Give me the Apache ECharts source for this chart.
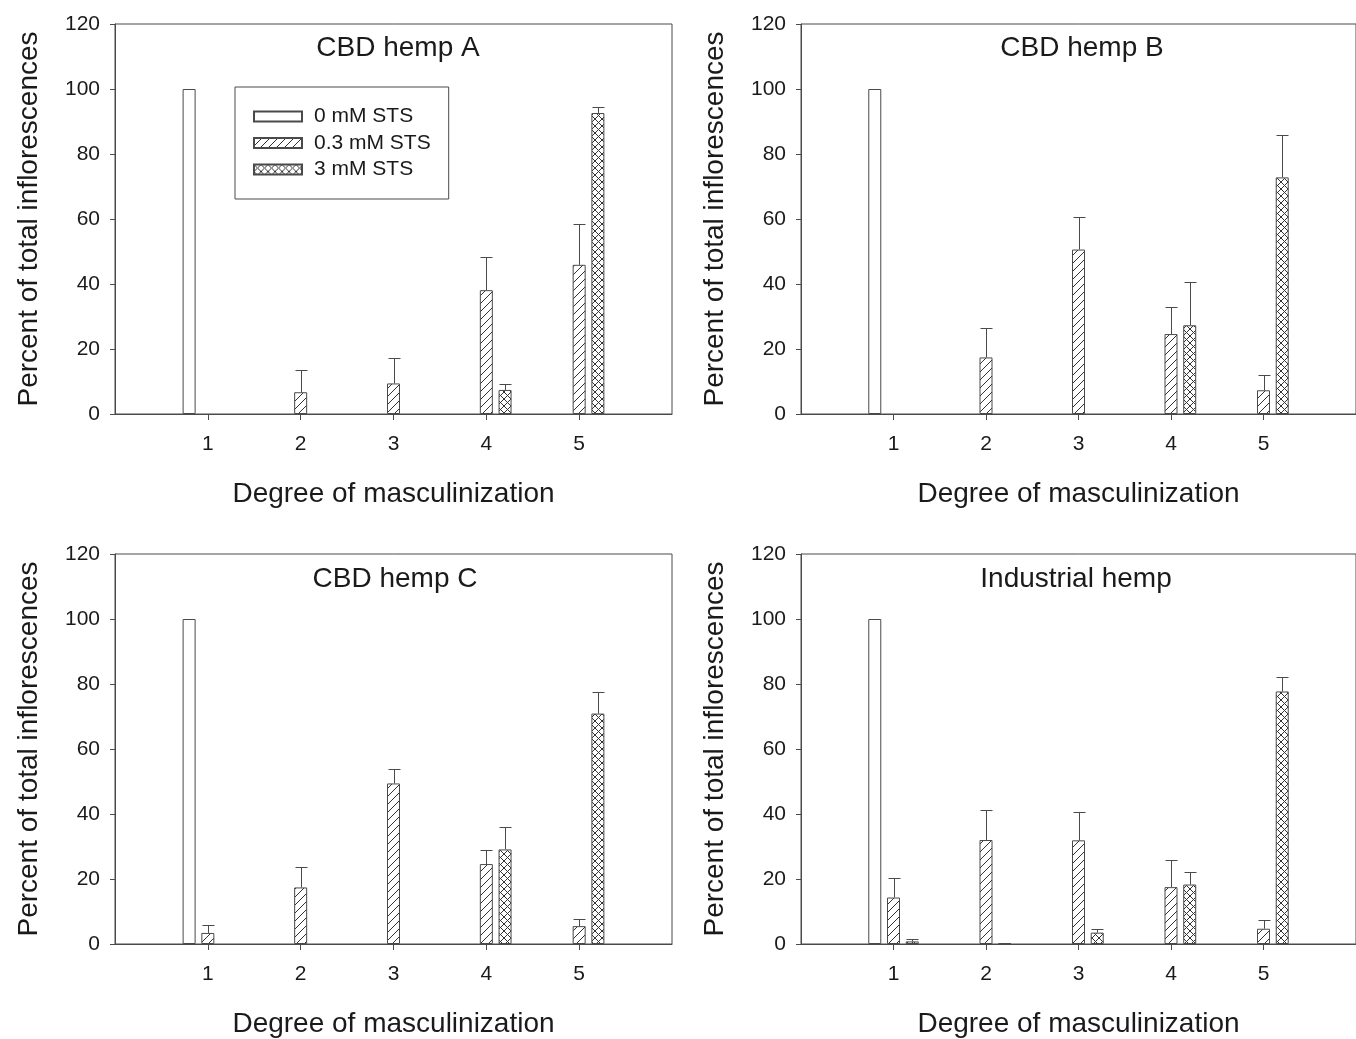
<!DOCTYPE html>
<html>
<head>
<meta charset="utf-8">
<script src="https://cdn.jsdelivr.net/npm/echarts@6/dist/echarts.min.js"></script>
<style>
html,body{margin:0;padding:0;background:#fff;}
#chart{width:1356px;height:1039px;}
</style>
</head>
<body>
<div id="chart"></div>
<script>
// ---- data ----
const degrees = ['1', '2', '3', '4', '5'];
const seriesNames = ['0 mM STS', '0.3 mM STS', '3 mM STS'];
const panelTitles = ['CBD hemp A', 'CBD hemp B', 'CBD hemp C', 'Industrial hemp'];
const yTicks = [0, 20, 40, 60, 80, 100, 120];

// CBD hemp A
const A_0mM = [100, null, null, null, null];
const A_03mM = [null, 6.7, 9.4, 38.1, 45.9];
const A_3mM = [null, null, null, 7.4, 92.6];
const A_03mM_err = [null, 6.7, 7.9, 10.1, 12.6];
const A_3mM_err = [null, null, null, 1.9, 2.0];
// CBD hemp B
const B_0mM = [100, null, null, null, null];
const B_03mM = [null, 17.4, 50.6, 24.6, 7.3];
const B_3mM = [null, null, null, 27.3, 72.8];
const B_03mM_err = [null, 9.2, 10.1, 8.3, 4.7];
const B_3mM_err = [null, null, null, 13.3, 13.1];
// CBD hemp C
const C_0mM = [100, null, null, null, null];
const C_03mM = [3.4, 17.4, 49.4, 24.6, 5.5];
const C_3mM = [null, null, null, 29.1, 70.9];
const C_03mM_err = [2.3, 6.4, 4.5, 4.3, 2.2];
const C_3mM_err = [null, null, null, 6.8, 6.6];
// Industrial hemp
const D_0mM = [100, null, null, null, null];
const D_03mM = [14.3, 32.0, 31.9, 17.5, 4.7];
const D_3mM = [0.8, 0.2, 3.5, 18.3, 77.7];
const D_03mM_err = [5.9, 9.3, 8.7, 8.5, 2.6];
const D_3mM_err = [0.6, 0, 1.0, 3.8, 4.4];

const panelValues = [
  [A_0mM, A_03mM, A_3mM],
  [B_0mM, B_03mM, B_3mM],
  [C_0mM, C_03mM, C_3mM],
  [D_0mM, D_03mM, D_3mM]
];
const panelErrors = [
  [null, A_03mM_err, A_3mM_err],
  [null, B_03mM_err, B_3mM_err],
  [null, C_03mM_err, C_3mM_err],
  [null, D_03mM_err, D_3mM_err]
];

// ---- layout / style ----
const FONT = "'Liberation Sans', Arial, Helvetica, sans-serif";
const TXT = '#1a1a1a';
const LINE = '#4a4a4a';
const grids = [
  {left: 115, top: 24, width: 557, height: 390},
  {left: 801, top: 24, width: 557, height: 390},
  {left: 115, top: 554, width: 557, height: 394},
  {left: 801, top: 554, width: 557, height: 394}
];
const titlePos = [[398, 34], [1082, 34], [395, 565], [1076, 565]];
const BAR_W = 13;
const BAR_GAP = 0.44;
const BAR_STEP = BAR_W * (1 + BAR_GAP);

function makePattern(size, cross) {
  const c = document.createElement('canvas');
  c.width = size; c.height = size;
  const g = c.getContext('2d');
  g.fillStyle = '#ffffff';
  g.fillRect(0, 0, size, size);
  g.strokeStyle = '#333333';
  g.lineWidth = 1;
  g.beginPath();
  for (let k = -size; k <= size; k += size) {
    g.moveTo(k, size); g.lineTo(k + size, 0);
    if (cross) { g.moveTo(k, 0); g.lineTo(k + size, size); }
  }
  g.stroke();
  return c;
}
const fills = [
  '#ffffff',
  {image: makePattern(8, false), repeat: 'repeat'},
  {image: makePattern(7, true), repeat: 'repeat'}
];

const axisCats = [''].concat(degrees, ['']);
const pad = arr => [null].concat(arr, [null]);
const showCat = (i, v) => v !== '';

const option = {
  animation: false,
  backgroundColor: '#ffffff',
  title: panelTitles.map((t, i) => ({
    text: t,
    left: titlePos[i][0],
    top: titlePos[i][1],
    textAlign: 'center',
    padding: 0,
    textStyle: {fontFamily: FONT, fontSize: 28, fontWeight: 'normal', color: TXT, lineHeight: 28}
  })),
  legend: {
    show: true,
    data: seriesNames,
    orient: 'vertical',
    left: 235,
    top: 87,
    padding: [19, 18, 19, 18],
    itemWidth: 48,
    itemHeight: 10,
    itemGap: 5.5,
    icon: 'rect',
    borderColor: LINE,
    borderWidth: 1,
    backgroundColor: '#ffffff',
    selectedMode: false,
    textStyle: {fontFamily: FONT, fontSize: 21, color: TXT, lineHeight: 21, padding: [0, 0, 0, 7]}
  },
  grid: grids.map(g => Object.assign({show: true, borderColor: LINE, borderWidth: 1, backgroundColor: 'transparent', containLabel: false}, g)),
  xAxis: grids.map((g, i) => ({
    type: 'category',
    gridIndex: i,
    data: axisCats,
    boundaryGap: false,
    name: 'Degree of masculinization',
    nameLocation: 'middle',
    nameGap: 66,
    nameTextStyle: {fontFamily: FONT, fontSize: 28, color: TXT},
    axisLine: {show: true, lineStyle: {color: LINE, width: 1}},
    axisTick: {show: true, interval: showCat, length: 6, inside: false, lineStyle: {color: LINE}},
    axisLabel: {show: true, interval: showCat, margin: 20, fontFamily: FONT, fontSize: 21, color: TXT},
    splitLine: {show: false}
  })),
  yAxis: grids.map((g, i) => ({
    type: 'value',
    gridIndex: i,
    min: yTicks[0],
    max: yTicks[yTicks.length - 1],
    interval: yTicks[1] - yTicks[0],
    name: 'Percent of total inflorescences',
    nameLocation: 'middle',
    nameGap: 72,
    nameTextStyle: {fontFamily: FONT, fontSize: 28, color: TXT},
    axisLine: {show: true, lineStyle: {color: LINE, width: 1}},
    axisTick: {show: true, length: 5, inside: false, lineStyle: {color: LINE}},
    axisLabel: {show: true, margin: 15, fontFamily: FONT, fontSize: 21, color: TXT},
    splitLine: {show: false}
  })),
  series: []
};

panelValues.forEach((vals, p) => {
  vals.forEach((arr, s) => {
    option.series.push({
      name: seriesNames[s],
      type: 'bar',
      xAxisIndex: p,
      yAxisIndex: p,
      barWidth: BAR_W,
      barGap: (BAR_GAP * 100) + '%',
      data: pad(arr),
      silent: true,
      itemStyle: {color: fills[s], borderColor: LINE, borderWidth: 1},
      emphasis: {disabled: true}
    });
  });
  panelErrors[p].forEach((errs, s) => {
    if (!errs) return;
    const data = [];
    errs.forEach((e, k) => {
      const v = vals[s][k];
      if (v != null && e != null && e > 0) data.push([k + 1, v, e, (s - 1) * BAR_STEP]);
    });
    option.series.push({
      type: 'custom',
      xAxisIndex: p,
      yAxisIndex: p,
      silent: true,
      data: data,
      encode: {x: 0, y: 1},
      renderItem: (params, api) => {
        const x = api.value(0), v = api.value(1), e = api.value(2), off = api.value(3);
        const p0 = api.coord([x, v]);
        const p1 = api.coord([x, v + e]);
        const cx = Math.round(p0[0] + off) + 0.5;
        const ty = Math.round(p1[1]) + 0.5;
        return {
          type: 'group',
          children: [
            {type: 'line', shape: {x1: cx, y1: p0[1], x2: cx, y2: ty}, style: {stroke: LINE, lineWidth: 1}},
            {type: 'line', shape: {x1: cx - 6, y1: ty, x2: cx + 6, y2: ty}, style: {stroke: LINE, lineWidth: 1}}
          ]
        };
      }
    });
  });
});

const chart = echarts.init(document.getElementById('chart'), null, {renderer: 'canvas'});
chart.setOption(option);
</script>
</body>
</html>
